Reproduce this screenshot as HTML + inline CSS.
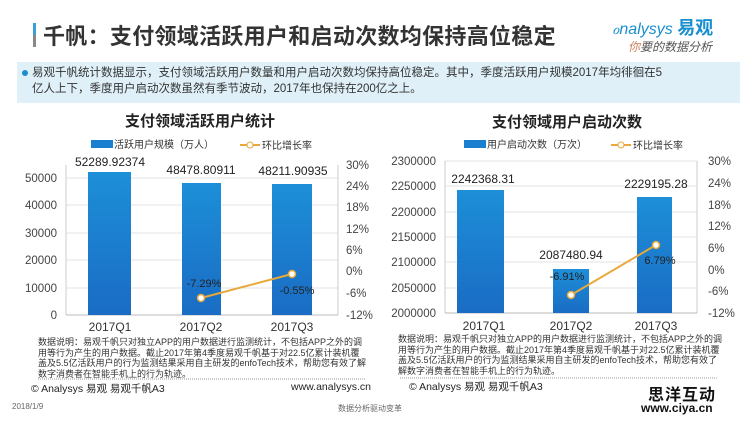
<!DOCTYPE html>
<html><head><meta charset="utf-8"><style>
body{margin:0;width:750px;height:422px;background:#fff;overflow:hidden;position:relative;font-family:"Liberation Sans","Noto Sans CJK SC",sans-serif;color:#333}
.a{position:absolute;white-space:nowrap}
</style></head><body>
<div class="a" style="left:33px;top:23px;width:3px;height:24px;background:linear-gradient(#3aa0d8 50%,#888 50%)"></div>
<div class="a" style="left:43px;top:19px;font-size:22px;font-weight:bold;color:#333;letter-spacing:0.3px">千帆：支付领域活跃用户和启动次数均保持高位稳定</div>
<div class="a" style="left:612px;top:14px;font-size:16px;color:#1a8fcf;font-style:italic">ℴnalysys <b style="font-style:normal;font-size:18px">易观</b></div>
<div class="a" style="left:628px;top:38px;font-size:12px;color:#555;font-style:italic"><span style="color:#c8805a">你</span>要的数据分析</div>
<div class="a" style="left:17px;top:62px;width:723px;height:41px;background:#dff0f8"></div>
<div class="a" style="left:22px;top:70px;width:6px;height:6px;border-radius:50%;background:#1a8fcf"></div>
<div class="a" style="left:32px;top:65px;font-size:11.5px;line-height:16px;color:#333">易观千帆统计数据显示，支付领域活跃用户数量和用户启动次数均保持高位稳定。其中，季度活跃用户规模2017年均徘徊在5<br>亿人上下，季度用户启动次数虽然有季节波动，2017年也保持在200亿之上。</div>

<svg class="a" style="left:0;top:0" width="750" height="422" font-family="Liberation Sans, Noto Sans CJK SC, sans-serif">
<defs><linearGradient id="g" x1="0" y1="0" x2="0" y2="1"><stop offset="0" stop-color="#1d8fd8"/><stop offset="1" stop-color="#1a6cc4"/></linearGradient></defs>
<!-- left chart -->
<text x="200" y="126" font-size="15" font-weight="bold" text-anchor="middle" fill="#222">支付领域活跃用户统计</text>
<rect x="91" y="140" width="22" height="8" fill="#1a7fd0"/><text x="114" y="148" font-size="10" fill="#333">活跃用户规模（万人）</text>
<line x1="240" y1="145" x2="260" y2="145" stroke="#e8a83a" stroke-width="2"/><circle cx="250" cy="145" r="3" fill="#fff" stroke="#e8a83a"/><text x="262" y="149" font-size="10" fill="#333">环比增长率</text>
<g stroke="#e3e3e3"><line x1="66" y1="178" x2="338" y2="178"/><line x1="66" y1="205" x2="338" y2="205"/><line x1="66" y1="233" x2="338" y2="233"/><line x1="66" y1="260" x2="338" y2="260"/><line x1="66" y1="288" x2="338" y2="288"/></g>
<line x1="66" y1="165" x2="66" y2="315" stroke="#ccc"/><line x1="338" y1="165" x2="338" y2="315" stroke="#ccc"/><line x1="66" y1="315" x2="338" y2="315" stroke="#bbb"/>
<g font-size="11.5" fill="#444" text-anchor="end"><text x="57" y="182">50000</text><text x="57" y="209">40000</text><text x="57" y="237">30000</text><text x="57" y="264">20000</text><text x="57" y="292">10000</text><text x="57" y="319">0</text></g>
<g font-size="11.5" fill="#444"><text x="346" y="169">30%</text><text x="346" y="190">24%</text><text x="346" y="211">18%</text><text x="346" y="233">12%</text><text x="346" y="254">6%</text><text x="346" y="275">0%</text><text x="346" y="297">-6%</text><text x="346" y="319">-12%</text></g>
<rect x="88" y="172" width="43" height="143" fill="url(#g)"/><rect x="182" y="183" width="39" height="132" fill="url(#g)"/><rect x="272" y="184" width="40" height="131" fill="url(#g)"/>
<g font-size="12" fill="#222" text-anchor="middle"><text x="110" y="166">52289.92374</text><text x="201" y="174">48478.80911</text><text x="293" y="175">48211.90935</text></g>
<polyline points="201,298 292,274" stroke="#e8a83a" stroke-width="2" fill="none"/><circle cx="201" cy="298" r="3.5" fill="#fff" stroke="#e8a83a" stroke-width="1.5"/><circle cx="292" cy="274" r="3.5" fill="#fff" stroke="#e8a83a" stroke-width="1.5"/>
<text x="204" y="287" font-size="11" fill="#222" text-anchor="middle">-7.29%</text><text x="297" y="294" font-size="11" fill="#222" text-anchor="middle">-0.55%</text>
<g font-size="12" fill="#333" text-anchor="middle"><text x="110" y="331">2017Q1</text><text x="201" y="331">2017Q2</text><text x="292" y="331">2017Q3</text></g>
<!-- right chart -->
<text x="567" y="127" font-size="15" font-weight="bold" text-anchor="middle" fill="#222">支付领域用户启动次数</text>
<rect x="464" y="140" width="22" height="8" fill="#1a7fd0"/><text x="487" y="148" font-size="10" fill="#333">用户启动次数（万次）</text>
<line x1="611" y1="145" x2="631" y2="145" stroke="#e8a83a" stroke-width="2"/><circle cx="621" cy="145" r="3" fill="#fff" stroke="#e8a83a"/><text x="633" y="149" font-size="10" fill="#333">环比增长率</text>
<g stroke="#e3e3e3"><line x1="445" y1="161" x2="697" y2="161"/><line x1="445" y1="186" x2="697" y2="186"/><line x1="445" y1="212" x2="697" y2="212"/><line x1="445" y1="237" x2="697" y2="237"/><line x1="445" y1="262" x2="697" y2="262"/><line x1="445" y1="288" x2="697" y2="288"/></g>
<line x1="445" y1="161" x2="445" y2="313" stroke="#ccc"/><line x1="697" y1="161" x2="697" y2="313" stroke="#ccc"/><line x1="445" y1="313" x2="697" y2="313" stroke="#bbb"/>
<g font-size="11.5" fill="#444" text-anchor="end"><text x="436" y="165">2300000</text><text x="436" y="190">2250000</text><text x="436" y="216">2200000</text><text x="436" y="241">2150000</text><text x="436" y="266">2100000</text><text x="436" y="292">2050000</text><text x="436" y="317">2000000</text></g>
<g font-size="11.5" fill="#444"><text x="708" y="165">30%</text><text x="708" y="187">24%</text><text x="708" y="209">18%</text><text x="708" y="230">12%</text><text x="708" y="252">6%</text><text x="708" y="274">0%</text><text x="708" y="295">-6%</text><text x="708" y="317">-12%</text></g>
<rect x="457" y="190" width="47" height="123" fill="url(#g)"/><rect x="553" y="269" width="36" height="44" fill="url(#g)"/><rect x="637" y="197" width="35" height="116" fill="url(#g)"/>
<g font-size="12" fill="#222" text-anchor="middle"><text x="483" y="183">2242368.31</text><text x="571" y="259">2087480.94</text><text x="656" y="188">2229195.28</text></g>
<polyline points="571,295 656,245" stroke="#e8a83a" stroke-width="2" fill="none"/><circle cx="571" cy="295" r="3.5" fill="#fff" stroke="#e8a83a" stroke-width="1.5"/><circle cx="656" cy="245" r="3.5" fill="#fff" stroke="#e8a83a" stroke-width="1.5"/>
<text x="567" y="280" font-size="11" fill="#222" text-anchor="middle">-6.91%</text><text x="660" y="264" font-size="11" fill="#222" text-anchor="middle">6.79%</text>
<g font-size="12" fill="#333" text-anchor="middle"><text x="484" y="330">2017Q1</text><text x="571" y="330">2017Q2</text><text x="656" y="330">2017Q3</text></g>
<line x1="38" y1="379" x2="365" y2="379" stroke="#999" stroke-dasharray="1,1"/>
<line x1="400" y1="378" x2="718" y2="378" stroke="#999" stroke-dasharray="1,1"/>
</svg>
<div class="a" style="left:38px;top:337px;font-size:9px;line-height:10.5px;color:#333;white-space:normal;width:330px">数据说明：易观千帆只对独立APP的用户数据进行监测统计，不包括APP之外的调用等行为产生的用户数据。截止2017年第4季度易观千帆基于对22.5亿累计装机覆盖及5.5亿活跃用户的行为监测结果采用自主研发的enfoTech技术，帮助您有效了解数字消费者在智能手机上的行为轨迹。</div>
<div class="a" style="left:398px;top:334px;font-size:9px;line-height:10.5px;color:#333;white-space:normal;width:325px">数据说明：易观千帆只对独立APP的用户数据进行监测统计，不包括APP之外的调用等行为产生的用户数据。截止2017年第4季度易观千帆基于对22.5亿累计装机覆盖及5.5亿活跃用户的行为监测结果采用自主研发的enfoTech技术，帮助您有效了解数字消费者在智能手机上的行为轨迹。</div>
<div class="a" style="left:31px;top:381px;font-size:10.5px;color:#222">© Analysys 易观 易观千帆A3</div>
<div class="a" style="left:291px;top:381px;font-size:10.5px;color:#222">www.analysys.cn</div>
<div class="a" style="left:409px;top:379px;font-size:10.5px;color:#222">© Analysys 易观 易观千帆A3</div>
<div class="a" style="left:12px;top:402px;font-size:8px;color:#666">2018/1/9</div>
<div class="a" style="left:338px;top:403px;font-size:8px;color:#666">数据分析驱动变革</div>
<div class="a" style="left:648px;top:381px;font-size:16px;font-weight:bold;color:#111;letter-spacing:1px">思洋互动</div>
<div class="a" style="left:641px;top:401px;font-size:12px;font-weight:bold;color:#111">www.ciya.cn</div>
</body></html>
